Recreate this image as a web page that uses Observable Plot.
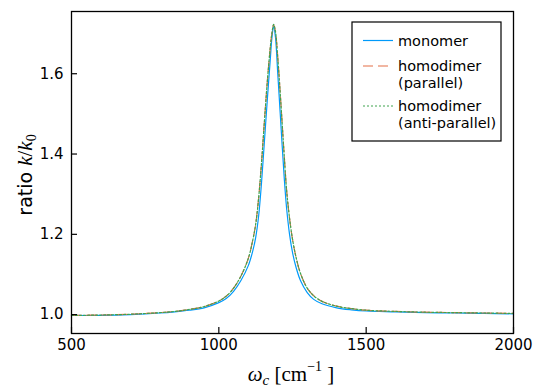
<!DOCTYPE html>
<html><head><meta charset="utf-8">
<script src="https://cdn.jsdelivr.net/npm/d3@7"></script>
<script src="https://cdn.jsdelivr.net/npm/@observablehq/plot@0.6"></script>
<style>body{margin:0;background:#fff} #chart{width:534px;height:388px}</style>
</head><body><div id="chart"></div>
<script>
// ---- data ----
const omega = [500, 600, 700, 800, 850, 900, 950, 1000, 1025, 1050, 1075, 1100, 1115, 1125, 1135, 1145, 1155, 1165, 1175, 1180, 1186, 1192, 1200, 1208, 1215, 1222, 1230, 1240, 1250, 1262, 1277, 1300, 1322, 1350, 1400, 1450, 1500, 1600, 1700, 1800, 1900, 2000];
const monomer = [0.998, 0.998, 1.000, 1.004, 1.007, 1.011, 1.017, 1.030, 1.040, 1.058, 1.085, 1.122, 1.158, 1.192, 1.245, 1.330, 1.435, 1.540, 1.640, 1.688, 1.718, 1.692, 1.600, 1.505, 1.420, 1.340, 1.265, 1.200, 1.155, 1.118, 1.085, 1.055, 1.038, 1.027, 1.017, 1.012, 1.009, 1.007, 1.005, 1.004, 1.003, 1.002];
const homodimerParallel = [0.998, 0.999, 1.001, 1.005, 1.008, 1.013, 1.020, 1.034, 1.046, 1.066, 1.096, 1.140, 1.185, 1.225, 1.290, 1.380, 1.485, 1.585, 1.668, 1.700, 1.722, 1.706, 1.640, 1.555, 1.475, 1.395, 1.310, 1.240, 1.188, 1.143, 1.103, 1.066, 1.047, 1.033, 1.021, 1.015, 1.011, 1.008, 1.006, 1.005, 1.004, 1.003];
const homodimerAntiParallel = [0.998, 0.999, 1.001, 1.005, 1.008, 1.013, 1.020, 1.034, 1.046, 1.066, 1.096, 1.140, 1.185, 1.225, 1.290, 1.380, 1.485, 1.585, 1.668, 1.700, 1.723, 1.706, 1.640, 1.555, 1.475, 1.395, 1.310, 1.240, 1.188, 1.143, 1.103, 1.066, 1.047, 1.033, 1.021, 1.015, 1.011, 1.008, 1.006, 1.005, 1.004, 1.003];
const seriesLabels = [["monomer"], ["homodimer", "(parallel)"], ["homodimer", "(anti-parallel)"]];
const seriesColors = ["#009AFA", "#E36F47", "#3EA44E"];
const seriesDash = [null, "10,5", "2,2"];
const xTicks = [500, 1000, 1500, 2000];
const yTicks = [1.0, 1.2, 1.4, 1.6];

const seriesValues = [monomer, homodimerParallel, homodimerAntiParallel];
const rows = seriesValues.map(vals => omega.map((w, i) => ({w, v: vals[i]})));

const W = 534, H = 388, mL = 71, mR = 21, mT = 11, mB = 55;
const svg = Plot.plot({
  width: W, height: H,
  marginLeft: mL, marginRight: mR, marginTop: mT, marginBottom: mB,
  style: {fontFamily: "DejaVu Sans", fontSize: "15px", background: "white", color: "black"},
  x: {domain: [500, 2000]},
  y: {domain: [0.953, 1.755]},
  marks: [
    ...rows.map((r, i) => Plot.line(r, {x: "w", y: "v", stroke: seriesColors[i], strokeWidth: 1.2,
      strokeDasharray: seriesDash[i], curve: "catmull-rom"})),
    Plot.frame({stroke: "black", strokeWidth: 1.3}),
    Plot.axisX(xTicks, {tickSize: 6, dy: -6, tickFormat: () => "", label: null, strokeWidth: 1.2}),
    Plot.axisX(xTicks, {tickSize: 0, tickPadding: 6, tickFormat: "d", label: null}),
    Plot.axisY(yTicks, {tickSize: 6, dx: 6, tickFormat: () => "", label: null, strokeWidth: 1.2}),
    Plot.axisY(yTicks, {tickSize: 0, tickPadding: 8, tickFormat: ".1f", label: null})
  ]
});
document.getElementById("chart").appendChild(svg);

const s = d3.select(svg);
// legend
const lg = s.append("g").attr("text-anchor", "start");
lg.append("rect").attr("x", 352).attr("y", 22).attr("width", 149).attr("height", 119)
  .attr("fill", "white").attr("stroke", "black").attr("stroke-width", 1.2);
const entryBase = [45.5, 71, 111];
seriesLabels.forEach((lines, i) => {
  const base = entryBase[i];
  lg.append("line").attr("x1", 363).attr("x2", 393).attr("y1", base - 5).attr("y2", base - 5)
    .attr("stroke", seriesColors[i]).attr("stroke-width", 1.2)
    .attr("stroke-dasharray", seriesDash[i]);
  lines.forEach((t, j) => {
    lg.append("text").attr("x", 398).attr("y", base + j * 17).attr("text-anchor", "start")
      .attr("font-family", "DejaVu Sans").attr("font-size", 14.5).attr("fill", "black").text(t);
  });
});
// x label
const xl = s.append("text").attr("x", 291).attr("y", 381).attr("text-anchor", "middle")
  .attr("font-family", "Liberation Serif").attr("font-size", 21).attr("fill", "black");
xl.append("tspan").attr("font-style", "italic").text("ω");
xl.append("tspan").attr("font-style", "italic").attr("font-size", 15).attr("dy", 4).text("c");
xl.append("tspan").attr("dy", -4).text(" [cm");
xl.append("tspan").attr("font-size", 14).attr("dy", -10).text("−1");
xl.append("tspan").attr("dy", 10).text(" ]");
// y label
const yl = s.append("text").attr("transform", "translate(32,175) rotate(-90)").attr("text-anchor", "middle")
  .attr("fill", "black");
yl.append("tspan").attr("font-family", "DejaVu Sans").attr("font-size", 19).text("ratio ");
yl.append("tspan").attr("font-family", "Liberation Serif").attr("font-style", "italic").attr("font-size", 21).text("k");
yl.append("tspan").attr("font-family", "Liberation Serif").attr("font-size", 21).text("/");
yl.append("tspan").attr("font-family", "Liberation Serif").attr("font-style", "italic").attr("font-size", 21).text("k");
yl.append("tspan").attr("font-family", "Liberation Serif").attr("font-size", 14).attr("dy", 4).text("0");
</script>
</body></html>
